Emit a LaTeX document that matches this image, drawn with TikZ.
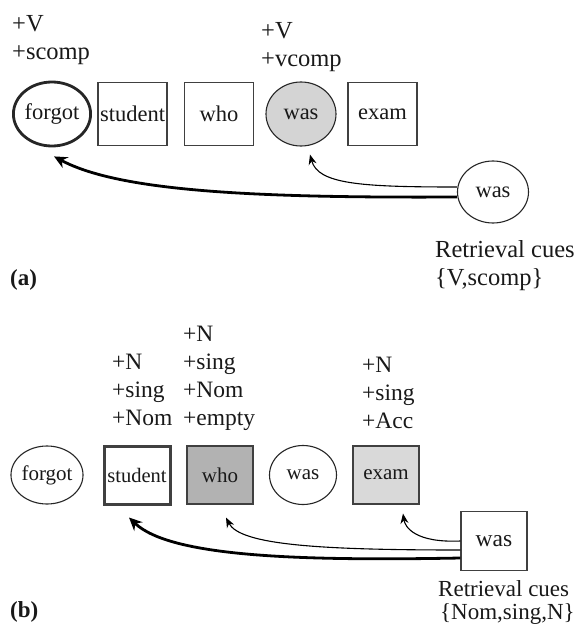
\documentclass[tikz,border=0pt]{standalone}
\usepackage{fontspec}
\setmainfont{Liberation Serif}
\usetikzlibrary{arrows.meta,shapes.geometric,calc}
\begin{document}
\begin{tikzpicture}[x=1pt,y=-1pt,
  lab/.style={anchor=base west,inner sep=0pt,text=black!90,font=\fontsize{24.5}{28}\selectfont},
  labb/.style={lab,font=\fontsize{23.5}{28}\selectfont},
  word/.style={inner sep=0pt,text=black!90,font=\fontsize{22.5}{24}\selectfont},
  boxnode/.style={word,rectangle,draw=black!75,line width=1.1pt,minimum width=69pt,minimum height=63pt},
  ellnode/.style={word,ellipse,draw=black!85,line width=1.1pt},
  thinarr/.style={line width=1.1pt,-{Stealth[length=10pt,width=8pt]}},
  thickarr/.style={line width=2.8pt,-{Stealth[length=13pt,width=12pt]}}
]
\useasboundingbox (0,0) rectangle (577,624);
\fill[white] (0,0) rectangle (577,624);

% ---------- panel (a) ----------
\node[lab] (a1) at (12,31) {+V};
\node[lab] (a2) at (12,59) {+scomp};
\node[lab] (a3) at (261,38) {+V};
\node[lab] (a4) at (261,66) {+vcomp};

\node[ellnode,line width=2.8pt,minimum width=72pt,minimum height=64pt] (forgotA) at (52,114) {forgot};
\node[boxnode] (studentA) at (132.5,114) {student};
\node[boxnode] (whoA) at (219,114) {who};
\node[ellnode,fill=black!17,minimum width=70pt,minimum height=64pt] (wasA) at (301,114) {was};
\node[boxnode] (examA) at (382.5,114) {exam};

\node[ellnode,minimum width=71pt,minimum height=62pt] (cueA) at (493,192) {was};

\draw[thickarr] ($(cueA.west)+(0,5)$) .. controls (260,198) and (120,192) .. ($(forgotA.south)+(2,9)$);
\draw[thinarr] ($(cueA.west)+(0,-5)$) .. controls (360,187) and (318,184) .. ($(wasA.south)+(9,8)$);

\node[lab] (rcA) at (435,257) {Retrieval cues};
\node[lab] (setA) at (435,285) {\{V,scomp\}};
\node[lab,font=\fontsize{23}{28}\selectfont\bfseries] (pa) at (10,285) {(a)};

% ---------- panel (b) ----------
\node[labb] (s1) at (112,369) {+N};
\node[labb] (s2) at (112,397) {+sing};
\node[labb] (s3) at (112,425) {+Nom};
\node[labb] (w1) at (183,341) {+N};
\node[labb] (w2) at (183,369) {+sing};
\node[labb] (w3) at (183,397) {+Nom};
\node[labb] (w4) at (183,425) {+empty};
\node[labb] (e1) at (362,372) {+N};
\node[labb] (e2) at (362,400) {+sing};
\node[labb] (e3) at (362,428) {+Acc};

\node[ellnode,minimum width=66pt,minimum height=58pt,font=\fontsize{21}{24}\selectfont] (forgotB) at (47,475) {forgot};
\node[boxnode,line width=3pt,minimum width=66pt,minimum height=58pt,font=\fontsize{20.5}{24}\selectfont] (studentB) at (137,475) {student};
\node[boxnode,fill=black!30,minimum width=66pt,minimum height=58pt,font=\fontsize{21}{24}\selectfont] (whoB) at (220,475) {who};
\node[ellnode,minimum width=67pt,minimum height=59pt,font=\fontsize{21}{24}\selectfont] (wasB) at (303,475) {was};
\node[boxnode,fill=black!15,minimum width=66pt,minimum height=58pt,font=\fontsize{21}{24}\selectfont] (examB) at (386,475) {exam};

\node[boxnode,minimum width=66pt,minimum height=59pt,font=\fontsize{23.5}{24}\selectfont] (cueB) at (494,541) {was};

\draw[thinarr] ($(cueB.west)+(0,0)$) .. controls (415,543) and (405,527) .. ($(examB.south)+(17,9)$);
\draw[thinarr] ($(cueB.west)+(0,9)$) .. controls (320,550) and (240,545) .. ($(whoB.south)+(6,13)$);
\draw[thickarr] ($(cueB.west)+(0,17)$) .. controls (300,561) and (170,557) .. ($(studentB.south)+(-8,12)$);

\node[labb,font=\fontsize{23}{28}\selectfont] (rcB) at (438,596) {Retrieval cues};
\node[labb,font=\fontsize{23}{28}\selectfont] (setB) at (440,619) {\{Nom,sing,N\}};
\node[lab,font=\fontsize{23}{28}\selectfont\bfseries] (pb) at (10,617) {(b)};
\end{tikzpicture}
\end{document}
